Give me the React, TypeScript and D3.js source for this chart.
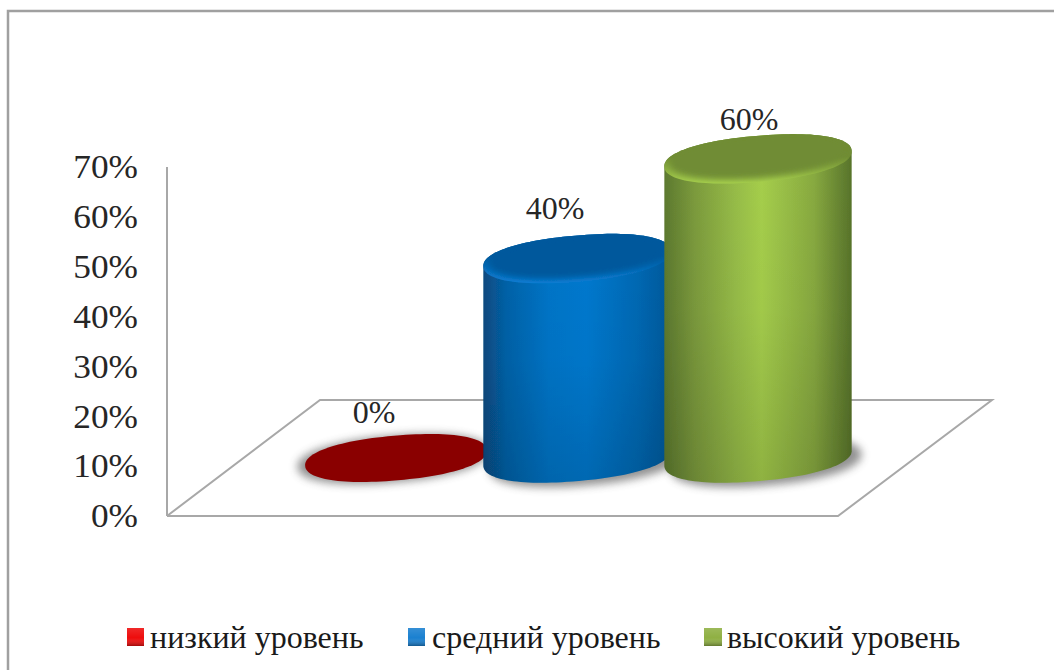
import React from "react";
import * as d3 from "d3";

// Share of respondents per level
const categories = ["низкий уровень", "средний уровень", "высокий уровень"];
const shares = [0, 0.4, 0.6];
const axisTicks = [0, 0.1, 0.2, 0.3, 0.4, 0.5, 0.6, 0.7];

const WIDTH = 1054;
const HEIGHT = 670;
const SERIF = "'Liberation Serif', 'DejaVu Serif', serif";

const percent = d3.format(".0%");
const axisY = d3.scaleLinear().domain([0, 0.7]).range([516, 167]);
const rise = (v: number) => axisY(0) - axisY(v);
const slotX = d3.scalePoint<string>().domain(categories).range([396, 758]);

const BASE_Y = 458;
const RX = 94;
const RY = 23;
const TILT = -5;
const SQUARENESS = 2.2;

// Outline of the slightly squared, tilted cylinder cap, relative to its centre.
const phi = (TILT * Math.PI) / 180;
const capOutline: [number, number][] = d3.range(0, 360, 3).map((deg) => {
  const t = (deg * Math.PI) / 180;
  const c = Math.cos(t);
  const s = Math.sin(t);
  const x = RX * Math.sign(c) * Math.pow(Math.abs(c), 2 / SQUARENESS);
  const y = RY * Math.sign(s) * Math.pow(Math.abs(s), 2 / SQUARENESS);
  return [x * Math.cos(phi) - y * Math.sin(phi), x * Math.sin(phi) + y * Math.cos(phi)];
});
const rightIdx = d3.greatestIndex(capOutline, (p) => p[0]) as number;
const leftIdx = d3.leastIndex(capOutline, (p) => p[0]) as number;

const shifted = (pts: [number, number][], cx: number, cy: number, k = 1) =>
  pts.map(([x, y]) => [cx + x * k, cy + y * k] as [number, number]);

function capPath(cx: number, cy: number, k = 1) {
  return d3.line().curve(d3.curveLinearClosed)(shifted(capOutline, cx, cy, k)) as string;
}

// Walks the cap outline from one index to another, wrapping at the end.
function walk(from: number, to: number) {
  const out: [number, number][] = [];
  const n = capOutline.length;
  for (let i = from; i !== to; i = (i + 1) % n) out.push(capOutline[i]);
  out.push(capOutline[to]);
  return out;
}

function bodyPath(cx: number, cyTop: number, cyBase: number) {
  const front = shifted(walk(rightIdx, leftIdx), cx, cyBase);
  const back = shifted(walk(leftIdx, rightIdx), cx, cyTop);
  return d3.line()([...front, ...back]) + "Z";
}

const bodyStops = [
  [["0", "#094a80"], ["0.12", "#0562a8"], ["0.35", "#0475c8"], ["0.55", "#0679cf"], ["0.82", "#0469b4"], ["1", "#06589a"]],
  [["0", "#5d7a2f"], ["0.16", "#7c9b3d"], ["0.38", "#97bd48"], ["0.52", "#a6cf4c"], ["0.8", "#88aa40"], ["1", "#58742b"]],
];
const topFill = ["#8a0000", "#04599c", "#6f8c34"];
const rimTop = ["#8a0000", "#045a9e", "#6f8c33"];
const rimBottom = ["#8a0000", "#0a80d8", "#a9d34e"];
const swatchFill = ["#ee0c0c", "#1a80d0", "#8fb043"];

const legendX = [127, 408, 704];
const legendW = [17, 17, 18];
const legendTextX = [150, 432, 727];
const valueOffsets = [
  { dx: -22, dy: -35 },
  { dx: -22, dy: -40 },
  { dx: -9, dy: -29 },
];

export default function App() {
  const floor = d3.line()([
    [167, 516],
    [838, 516],
    [992, 400],
    [320, 400],
    [167, 516],
  ]) as string;

  return (
    <svg
      width={WIDTH}
      height={HEIGHT}
      viewBox={`0 0 ${WIDTH} ${HEIGHT}`}
      style={{ position: "absolute", left: 0, top: 0, background: "#fff" }}
      fontFamily={SERIF}
    >
      <defs>
        <filter id="soft" x="-20%" y="-60%" width="140%" height="220%">
          <feGaussianBlur stdDeviation="4" />
        </filter>
        <filter id="edge" x="-10%" y="-30%" width="120%" height="160%">
          <feGaussianBlur stdDeviation="3" />
        </filter>
        <filter id="hair" x="-5%" y="-5%" width="110%" height="110%">
          <feGaussianBlur stdDeviation="0.5" />
        </filter>
        {bodyStops.map((stops, i) => (
          <linearGradient id={`body${i}`} key={i} x1="0" x2="1" y1="0" y2="0">
            {stops.map(([o, c]) => (
              <stop key={o} offset={o} stopColor={c} />
            ))}
          </linearGradient>
        ))}
        {categories.map((c, i) => (
          <linearGradient id={`rim${i}`} key={c} x1="0" x2="0" y1="0" y2="1">
            <stop offset="0.45" stopColor={rimTop[i]} />
            <stop offset="1" stopColor={rimBottom[i]} />
          </linearGradient>
        ))}
        <linearGradient id="fade" x1="0" x2="0" y1="0" y2="1">
          <stop offset="0" stopColor="#000" stopOpacity="0" />
          <stop offset="0.5" stopColor="#000" stopOpacity="0.03" />
          <stop offset="1" stopColor="#000" stopOpacity="0.14" />
        </linearGradient>
        <linearGradient id="swatchShade" x1="0" x2="0" y1="0" y2="1">
          <stop offset="0" stopColor="#fff" stopOpacity="0.12" />
          <stop offset="0.55" stopColor="#fff" stopOpacity="0" />
          <stop offset="1" stopColor="#000" stopOpacity="0.32" />
        </linearGradient>
        {categories.map((c, i) => (
          <clipPath id={`cap${i}`} key={c}>
            <path d={capPath(slotX(c) as number, BASE_Y - rise(shares[i]))} />
          </clipPath>
        ))}
      </defs>

      <path
        d={d3.line()([
          [8, HEIGHT],
          [8, 11],
          [WIDTH + 2, 11],
        ]) as string}
        fill="none"
        stroke="#a0a0a0"
        strokeWidth="2.5"
      />

      <path d={floor} fill="none" stroke="#a8a8a8" strokeWidth="2" />
      <line x1={167} x2={167} y1={axisY(0.7)} y2={axisY(0)} stroke="#a8a8a8" strokeWidth="2" />

      {axisTicks.map((t) => (
        <text
          key={t}
          transform={`translate(138 ${axisY(t)}) scale(1.07 1)`}
          dy="0.34em"
          textAnchor="end"
          fontSize={33}
          fill="#262626"
        >
          {percent(t)}
        </text>
      ))}

      {categories.map((c, i) => {
        const cx = slotX(c) as number;
        const v = shares[i];
        const cyTop = BASE_Y - rise(v);
        return (
          <g key={c}>
            <path
              d={capPath(cx + (v > 0 ? 8 : -3), BASE_Y + (v > 0 ? 4 : 1), 1.02)}
              fill="#4a4a4a"
              opacity={0.6}
              filter="url(#soft)"
            />
            {v > 0 ? (
              <g filter="url(#hair)">
                <path d={bodyPath(cx, cyTop, BASE_Y)} fill={`url(#body${i - 1})`} />
                <path d={bodyPath(cx, cyTop, BASE_Y)} fill="url(#fade)" />
                <path d={capPath(cx, cyTop)} fill={`url(#rim${i})`} />
                <g clipPath={`url(#cap${i})`}>
                  <path d={capPath(cx, cyTop - 3, 0.94)} fill={topFill[i]} filter="url(#edge)" />
                </g>
              </g>
            ) : (
              <path d={capPath(cx, BASE_Y, 0.97)} fill={topFill[i]} filter="url(#hair)" />
            )}
          </g>
        );
      })}

      {categories.map((c, i) => (
        <text
          key={c}
          x={(slotX(c) as number) + valueOffsets[i].dx}
          y={BASE_Y - rise(shares[i]) + valueOffsets[i].dy}
          textAnchor="middle"
          fontSize={32}
          fill="#262626"
        >
          {percent(shares[i])}
        </text>
      ))}

      {categories.map((c, i) => (
        <g key={c}>
          <rect x={legendX[i]} y={628} width={legendW[i]} height={18} fill={swatchFill[i]} />
          <rect x={legendX[i]} y={628} width={legendW[i]} height={18} fill="url(#swatchShade)" />
          <text x={legendTextX[i]} y={648} fontSize={32} fill="#1a1a1a">
            {c}
          </text>
        </g>
      ))}
    </svg>
  );
}
